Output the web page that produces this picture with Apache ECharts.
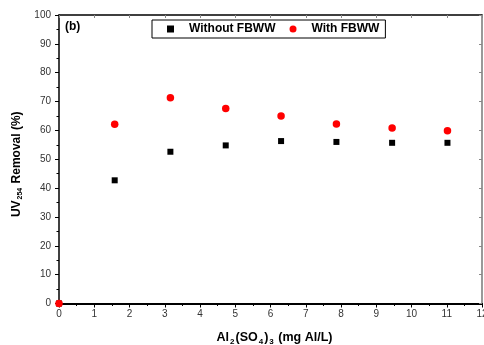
<!DOCTYPE html>
<html><head><meta charset="utf-8">
<script src="https://cdn.jsdelivr.net/npm/echarts@6/dist/echarts.min.js"></script>
<style>html,body{margin:0;padding:0;background:#fff;overflow:hidden}#c{position:fixed;left:0;top:0;width:484px;height:345px}</style>
</head><body><div id="c"></div>
<script>
const doseX = [0, 1.58, 3.16, 4.73, 6.30, 7.87, 9.45, 11.02];
const withoutFBWW = [0, 42.7, 52.6, 54.8, 56.3, 56.0, 55.7, 55.7];
const withFBWW = [0, 62.1, 71.3, 67.6, 65.0, 62.2, 60.8, 59.9];
const seriesNames = ['Without FBWW', 'With FBWW'];
const xTicks = [0,1,2,3,4,5,6,7,8,9,10,11,12];
const yTicks = [0,10,20,30,40,50,60,70,80,90,100];

const font = 'Liberation Sans, Arial, sans-serif';
const pair = (xs, ys) => xs.map((x, i) => [x, ys[i]]);
const chart = echarts.init(document.getElementById('c'), null, {renderer: 'canvas', width: 484, height: 345});
chart.setOption({
  animation: false,
  backgroundColor: '#fff',
  grid: {left: 59, right: 2, top: 15, bottom: 41.5, containLabel: false, outerBoundsMode: 'none'},
  legend: {
    left: 152, top: 20,
    padding: [3, 6, 3, 15],
    itemGap: 14,
    itemWidth: 7, itemHeight: 7,
    borderColor: '#000', borderWidth: 1,
    textStyle: {fontFamily: font, fontWeight: 'bold', fontSize: 12, color: '#000', padding: [0, 0, 0, 10]},
    data: [{name: seriesNames[0], icon: 'rect'}, {name: seriesNames[1], icon: 'circle'}]
  },
  graphic: [{type: 'text', left: 65, top: 21, style: {text: '(b)', font: 'bold 12px ' + font, fill: '#000'}}],
  xAxis: [{
    type: 'value', min: 0, max: 12, interval: 1,
    name: '{b|Al}{s|2}{b|(SO}{s|4}{b|)}{s|3}{b| (mg Al/L)}',
    nameLocation: 'middle', nameGap: 27,
    nameTextStyle: {padding: [0, 0, 0, 8], rich: {
      b: {fontFamily: font, fontWeight: 'bold', fontSize: 12.5, color: '#000'},
      s: {fontFamily: font, fontWeight: 'bold', fontSize: 8, color: '#000', verticalAlign: 'bottom', padding: [7, 1, 0, 1]}
    }},
    axisLine: {lineStyle: {color: '#000', width: 2}},
    axisTick: {inside: false, length: 4, lineStyle: {color: '#000', width: 1}},
    minorTick: {show: true, splitNumber: 2, length: 2.5, lineStyle: {color: '#000', width: 1}},
    axisLabel: {margin: 6, fontFamily: font, fontSize: 10, color: '#333', formatter: v => xTicks.includes(v) ? String(v) : ''},
    splitLine: {show: false}
  }, {
    type: 'value', position: 'top', min: 0, max: 12, interval: 1,
    axisLine: {show: true, onZero: false, lineStyle: {color: '#000', width: 1.5}},
    axisTick: {inside: true, length: 3, lineStyle: {color: '#888', width: 1}},
    axisLabel: {show: false}, splitLine: {show: false}
  }],
  yAxis: [{
    type: 'value', min: 0, max: 100, interval: 10,
    name: '{b|UV}{s|254}{b| Removal (%)}',
    nameLocation: 'middle', nameGap: 26, nameRotate: 90,
    nameTextStyle: {padding: [0, 10, 0, 0], rich: {
      b: {fontFamily: font, fontWeight: 'bold', fontSize: 12, color: '#000'},
      s: {fontFamily: font, fontWeight: 'bold', fontSize: 7, color: '#000', verticalAlign: 'bottom', padding: [7, 1, 0, 1]}
    }},
    axisLine: {show: true, lineStyle: {color: '#000', width: 1.5}},
    axisTick: {inside: false, length: 4, lineStyle: {color: '#000', width: 1}},
    minorTick: {show: true, splitNumber: 2, length: 2.5, lineStyle: {color: '#000', width: 1}},
    axisLabel: {margin: 8, fontFamily: font, fontSize: 10, color: '#333', formatter: v => yTicks.includes(v) ? String(v) : ''},
    splitLine: {show: false}
  }, {
    type: 'value', position: 'right', min: 0, max: 100, interval: 10,
    axisLine: {show: true, onZero: false, lineStyle: {color: '#777', width: 1.5}},
    axisTick: {show: true, inside: true, length: 3, lineStyle: {color: '#888', width: 1}},
    axisLabel: {show: false}, splitLine: {show: false}
  }],
  series: [{
    name: seriesNames[0], type: 'scatter', symbol: 'rect', symbolSize: 6,
    itemStyle: {color: '#000', opacity: 1}, data: pair(doseX, withoutFBWW), z: 2
  }, {
    name: seriesNames[1], type: 'scatter', symbol: 'circle', symbolSize: 7.5,
    itemStyle: {color: '#ff0000', opacity: 1}, data: pair(doseX, withFBWW), z: 3
  }]
});
</script></body></html>
